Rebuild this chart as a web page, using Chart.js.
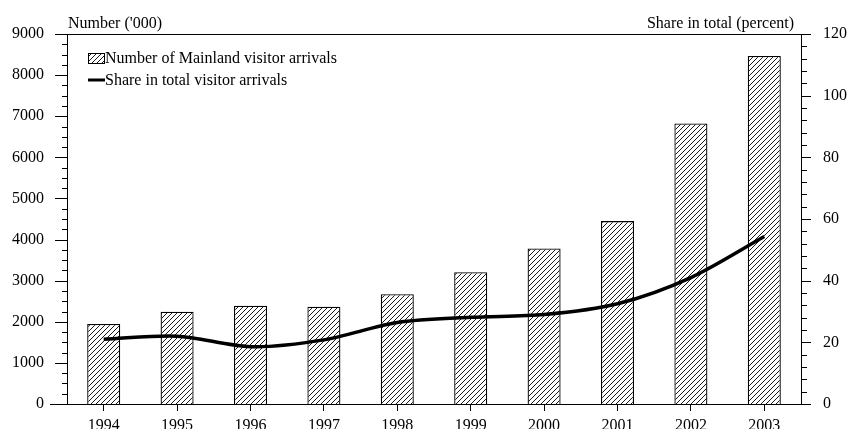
<!DOCTYPE html>
<html>
<head>
<meta charset="utf-8">
<script src="https://cdn.jsdelivr.net/npm/chart.js@4.4.1/dist/chart.umd.min.js"></script>
<style>
  html, body { margin: 0; padding: 0; background: #fff; }
  #wrap { width: 848px; height: 429px; }
</style>
</head>
<body>
<div id="wrap"><canvas id="visitorChart" width="848" height="429"></canvas></div>
<script>
// datos
const years = ['1994', '1995', '1996', '1997', '1998', '1999', '2000', '2001', '2002', '2003'];
const arrivals = [1945, 2243, 2390, 2364, 2672, 3206, 3785, 4449, 6825, 8467];
const share = [21.0, 22.0, 18.6, 20.8, 26.4, 28.1, 29.0, 32.5, 41.0, 54.3];
const leftTicks = [0, 1000, 2000, 3000, 4000, 5000, 6000, 7000, 8000, 9000];
const rightTicks = [0, 20, 40, 60, 80, 100, 120];

const leftTitle = "Number ('000)";
const rightTitle = 'Share in total (percent)';
const barLabel = 'Number of Mainland visitor arrivals';
const lineLabel = 'Share in total visitor arrivals';

const FONT = 'Liberation Serif';
Chart.defaults.font.family = FONT;
Chart.defaults.font.size = 16;
Chart.defaults.color = '#000';

function makeHatch(ctx) {
    const c = document.createElement('canvas');
    c.width = 5;
    c.height = 5;
    const x = c.getContext('2d');
    x.fillStyle = '#fff';
    x.fillRect(0, 0, 5, 5);
    x.strokeStyle = '#000';
    x.lineWidth = 0.9;
    x.beginPath();
    x.moveTo(0, 5); x.lineTo(5, 0);
    x.moveTo(-1, 1); x.lineTo(1, -1);
    x.moveTo(4, 6); x.lineTo(6, 4);
    x.stroke();
    return ctx.createPattern(c, 'repeat');
}

// el padding de las etiquetas del eje y no debe empujar el area del grafico
function fijarEje(ancho) {
    return s => {
        s.width = ancho;
        s.paddingTop = 0;
        s.paddingBottom = 0;
    };
}

// marcas menores, marco y textos
const extras = {
    id: 'extras',
    afterDraw(chart) {
        const { ctx, chartArea: a, scales } = chart;
        ctx.save();
        ctx.strokeStyle = '#000';
        ctx.lineWidth = 1;
        ctx.beginPath();
        ctx.moveTo(a.left - 12, a.top + 0.5);
        ctx.lineTo(a.right + 10, a.top + 0.5);
        ctx.moveTo(a.left - 17, a.bottom + 0.5);
        ctx.lineTo(a.right + 10, a.bottom + 0.5);

        const lstep = (leftTicks[1] - leftTicks[0]) / 4;
        for (let v = leftTicks[0]; v <= leftTicks[leftTicks.length - 1]; v += lstep) {
            const y = Math.round(scales.y.getPixelForValue(v)) + 0.5;
            const len = leftTicks.includes(v) ? 12 : 5;
            ctx.moveTo(a.left - len, y);
            ctx.lineTo(a.left, y);
        }
        const rstep = (rightTicks[1] - rightTicks[0]) / 5;
        for (let i = 0; i <= (rightTicks[rightTicks.length - 1] / rstep); i++) {
            const v = i * rstep;
            const y = Math.round(scales.y1.getPixelForValue(v)) + 0.5;
            const len = (i % 5 === 0) ? 10 : 6;
            ctx.moveTo(a.right, y);
            ctx.lineTo(a.right + len, y);
        }
        ctx.stroke();

        ctx.fillStyle = '#000';
        ctx.font = '16px "' + FONT + '"';
        ctx.textBaseline = 'alphabetic';
        ctx.textAlign = 'left';
        ctx.fillText(leftTitle, a.left + 1, 28);
        ctx.textAlign = 'right';
        ctx.fillText(rightTitle, a.right - 7, 28);

        // leyenda
        const lx = a.left + 21;
        ctx.textAlign = 'left';
        ctx.fillStyle = chart.data.datasets[1].backgroundColor;
        ctx.fillRect(lx, a.top + 19, 16, 10);
        ctx.strokeRect(lx + 0.5, a.top + 19.5, 16, 10);
        ctx.fillStyle = '#000';
        ctx.fillText(barLabel, lx + 17, a.top + 29);
        ctx.lineWidth = 3;
        ctx.beginPath();
        ctx.moveTo(lx, a.top + 46);
        ctx.lineTo(lx + 17, a.top + 46);
        ctx.stroke();
        ctx.fillText(lineLabel, lx + 17, a.top + 51);
        ctx.restore();
    }
};

function inicioGrafica() {
    const canvas = document.getElementById('visitorChart');
    const ctx = canvas.getContext('2d');

    new Chart(ctx, {
        data: {
            labels: years,
            datasets: [{
                type: 'line',
                label: lineLabel,
                data: share,
                yAxisID: 'y1',
                borderColor: '#000',
                borderWidth: 3.5,
                pointRadius: 0,
                tension: 0.3,
                fill: false,
                order: 0
            }, {
                type: 'bar',
                label: barLabel,
                data: arrivals,
                yAxisID: 'y',
                backgroundColor: makeHatch(ctx),
                borderColor: '#000',
                borderWidth: 1.3,
                barPercentage: 0.45,
                categoryPercentage: 1,
                order: 1
            }]
        },
        options: {
            responsive: false,
            animation: false,
            layout: { padding: { top: 34, left: 0, right: 0, bottom: 0 } },
            plugins: {
                legend: { display: false },
                tooltip: { enabled: false }
            },
            scales: {
                x: {
                    grid: { display: true, drawOnChartArea: false, offset: false, tickLength: 7, color: '#000' },
                    border: { display: true, color: '#000', width: 1 },
                    ticks: { padding: 5, maxRotation: 0, autoSkip: false },
                    afterFit: s => { s.height = 25; }
                },
                y: {
                    position: 'left',
                    min: 0,
                    max: 9000,
                    grid: { display: false, drawTicks: false },
                    border: { display: true, color: '#000', width: 1 },
                    ticks: { padding: 23, callback: v => String(v) },
                    afterBuildTicks: s => { s.ticks = leftTicks.map(v => ({ value: v })); },
                    afterFit: fijarEje(67)
                },
                y1: {
                    position: 'right',
                    min: 0,
                    max: 120,
                    grid: { display: false, drawTicks: false },
                    border: { display: true, color: '#000', width: 1 },
                    ticks: { padding: 22, callback: v => String(v) },
                    afterBuildTicks: s => { s.ticks = rightTicks.map(v => ({ value: v })); },
                    afterFit: fijarEje(47)
                }
            }
        },
        plugins: [extras]
    });
}

document.addEventListener('DOMContentLoaded', inicioGrafica);
</script>
</body>
</html>
